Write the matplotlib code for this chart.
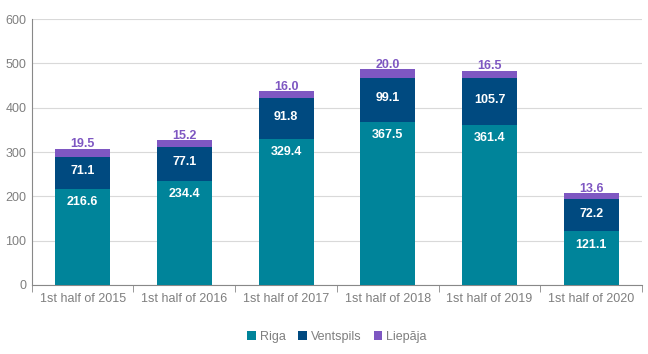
import matplotlib.pyplot as plt
import numpy as np

plt.rcParams['font.family'] = ['Liberation Sans', 'DejaVu Sans']

categories = ['1st half of 2015', '1st half of 2016', '1st half of 2017',
              '1st half of 2018', '1st half of 2019', '1st half of 2020']
riga = [216.6, 234.4, 329.4, 367.5, 361.4, 121.1]
ventspils = [71.1, 77.1, 91.8, 99.1, 105.7, 72.2]
liepaja = [19.5, 15.2, 16.0, 20.0, 16.5, 13.6]

c_riga = '#00849A'
c_vent = '#004A80'
c_liep = '#7E57C2'
grey = '#7F7F7F'

fig = plt.figure(figsize=(6.48, 3.54), dpi=100)
ax = fig.add_axes([0.049, 0.195, 0.942, 0.751])

x = np.arange(len(categories))
w = 0.54
r = np.array(riga)
v = np.array(ventspils)
l = np.array(liepaja)

ax.bar(x, r, w, color=c_riga, label='Riga', zorder=3)
ax.bar(x, v, w, bottom=r, color=c_vent, label='Ventspils', zorder=3)
ax.bar(x, l, w, bottom=r + v, color=c_liep, label='Liepāja', zorder=3)

for i in range(len(x)):
    ax.text(x[i], r[i] - 30, f'{r[i]:.1f}', ha='center', va='center',
            color='white', fontsize=9, fontweight='bold', zorder=4)
    ax.text(x[i], r[i] + v[i] / 2 + 4, f'{v[i]:.1f}', ha='center', va='center',
            color='white', fontsize=9, fontweight='bold', zorder=4)
    ax.text(x[i], r[i] + v[i] + l[i] - 3, f'{l[i]:.1f}', ha='center', va='bottom',
            color=c_liep, fontsize=9, fontweight='bold', zorder=4)

ax.set_xlim(-0.5, len(x) - 0.5)
ax.set_ylim(0, 600)
ax.set_yticks(range(0, 601, 100))
ax.set_xticks(x)
ax.set_xticklabels(categories)
ax.set_xticks(np.arange(-0.5, len(x)), minor=True)
ax.tick_params(axis='x', which='major', length=0, pad=6, labelsize=9, labelcolor=grey)
ax.tick_params(axis='x', which='minor', length=5, color='#888888', direction='out')
ax.tick_params(axis='y', length=0, pad=4, labelsize=9, labelcolor=grey)

ax.grid(axis='y', color='#D9D9D9', linewidth=0.8, zorder=0)
for s in ['top', 'right']:
    ax.spines[s].set_visible(False)
ax.spines['left'].set_color('#888888')
ax.spines['bottom'].set_color('#888888')

ax.legend(loc='upper center', bbox_to_anchor=(0.5, -0.13), ncol=3, frameon=False,
          fontsize=9, labelcolor=grey, handlelength=0.7, handleheight=0.7,
          handletextpad=0.3, columnspacing=1.0)

fig.savefig('out.png', dpi=100)
